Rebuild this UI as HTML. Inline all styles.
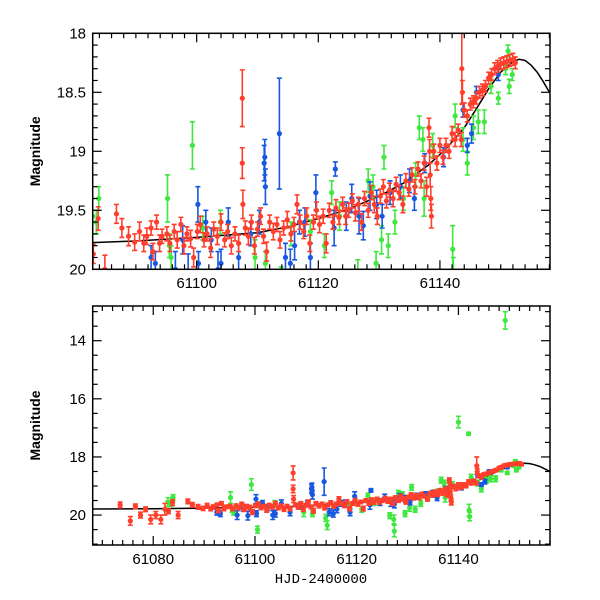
<!DOCTYPE html>
<html><head><meta charset="utf-8"><style>
body{margin:0;background:#fff;}
svg{display:block;font-family:"Liberation Sans",sans-serif;}
</style></head><body>
<svg id="chart" width="600" height="600" viewBox="0 0 600 600">
<defs>
<clipPath id="clipTop"><rect x="92.7" y="33.3" width="457.3" height="236"/></clipPath>
<clipPath id="clipBot"><rect x="92.7" y="306" width="457.3" height="239"/></clipPath>
</defs>
</svg>
<script>
const xTicks=[61080,61100,61120,61140];
const topYTicks=[18,18.5,19,19.5,20];
const botYTicks=[14,16,18,20];
const curveT=[61068,61080,61090,61100,61110,61115,61120,61125,61130,61134,61138,61141,61144,61146,61148,61150,61152,61153,61154,61155,61156,61157,61158];
const curveM=[19.79,19.78,19.76,19.73,19.69,19.64,19.57,19.49,19.38,19.27,19.12,18.98,18.8,18.64,18.47,18.33,18.24,18.22,18.23,18.27,18.33,18.41,18.5];
const redT=[61073.5,61075.5,61076.5,61077.5,61078.5,61079.5,61080.5,61081.5,61082.3,61083.0,61083.8,61084.9,61086.8,61087.7,61088.8,61089.8,61090.6,61091.3,61091.8,61092.5,61092.8,61093.4,61093.9,61094.3,61095.1,61095.6,61096.3,61096.8,61097.4,61097.9,61098.4,61099.0,61099.5,61100.1,61100.6,61101.2,61101.7,61102.3,61102.8,61103.4,61104.0,61104.6,61105.1,61105.7,61106.3,61106.9,61107.5,61107.5,61107.6,61108.0,61108.5,61109.0,61109.5,61110.0,61110.5,61111.0,61111.5,61112.0,61112.6,61113.2,61113.7,61114.3,61114.9,61115.5,61116.0,61116.5,61117.0,61117.6,61118.1,61118.6,61119.2,61119.7,61120.2,61120.8,61121.3,61121.8,61122.4,61122.9,61123.4,61124.0,61124.5,61125.0,61125.6,61126.1,61126.6,61127.1,61127.6,61128.2,61128.7,61129.2,61129.7,61130.2,61130.7,61131.2,61131.7,61132.3,61132.8,61133.3,61133.9,61134.4,61134.9,61135.4,61135.9,61136.4,61136.9,61137.4,61137.8,61138.2,61138.3,61138.4,61138.5,61138.6,61139.0,61139.5,61140.0,61140.5,61141.0,61141.5,61142.0,61142.5,61143.0,61143.5,61143.6,61143.7,61144.0,61144.5,61145.0,61145.5,61146.0,61146.5,61147.0,61147.5,61148.0,61148.5,61149.0,61149.5,61150.0,61150.5,61151.0,61151.5,61152.0,61152.4];
const redM=[19.65,20.2,19.7,20.0,19.8,20.15,20.0,20.15,19.8,19.87,19.57,20.0,19.53,19.65,19.72,19.77,19.68,19.78,19.72,19.65,19.85,19.6,19.78,19.72,19.7,19.78,19.68,19.75,19.62,19.8,19.7,19.74,19.9,19.68,19.62,19.75,19.7,19.82,19.66,19.72,19.6,19.75,19.68,19.8,19.7,19.78,18.55,19.1,19.45,19.65,19.72,19.6,19.8,19.66,19.55,19.72,19.85,19.6,19.68,19.62,19.75,19.65,19.58,19.7,19.62,19.45,19.6,19.68,19.55,19.78,19.6,19.5,19.62,19.55,19.78,19.5,19.6,19.48,19.56,19.45,19.55,19.5,19.42,19.52,19.45,19.6,19.4,19.5,19.35,19.45,19.55,19.38,19.3,19.42,19.33,19.4,19.28,19.35,19.45,19.25,19.32,19.2,19.3,19.15,19.25,19.1,19.3,18.8,19.0,19.2,19.4,19.55,19.0,19.1,18.95,19.05,18.95,19.0,18.85,18.9,18.82,18.9,18.3,18.5,18.65,18.7,18.6,18.58,18.55,18.5,18.48,18.45,18.38,18.35,18.3,18.28,18.26,18.25,18.24,18.23,18.22,18.25];
const redE=[0.1,0.15,0.08,0.1,0.08,0.15,0.12,0.15,0.2,0.08,0.1,0.12,0.08,0.08,0.08,0.07,0.08,0.07,0.07,0.06,0.07,0.06,0.07,0.06,0.06,0.07,0.06,0.07,0.06,0.07,0.06,0.07,0.08,0.06,0.07,0.06,0.06,0.08,0.06,0.07,0.07,0.06,0.06,0.07,0.06,0.07,0.24,0.13,0.12,0.06,0.07,0.06,0.07,0.06,0.07,0.06,0.08,0.06,0.07,0.06,0.07,0.06,0.07,0.06,0.06,0.08,0.06,0.06,0.07,0.07,0.06,0.07,0.07,0.06,0.08,0.06,0.06,0.07,0.06,0.06,0.07,0.06,0.06,0.07,0.06,0.07,0.06,0.06,0.06,0.07,0.07,0.06,0.06,0.06,0.06,0.07,0.06,0.06,0.07,0.06,0.06,0.06,0.06,0.06,0.06,0.06,0.08,0.08,0.1,0.1,0.1,0.1,0.06,0.06,0.06,0.06,0.06,0.06,0.06,0.06,0.05,0.06,0.3,0.1,0.06,0.05,0.05,0.05,0.05,0.05,0.05,0.05,0.05,0.05,0.05,0.05,0.05,0.05,0.05,0.05,0.05,0.05];
const blueT=[61092.5,61093.2,61096.5,61097.7,61098.6,61100.2,61100.3,61101.5,61102.4,61103.5,61104.0,61105.2,61106.9,61108.9,61110.3,61111.1,61111.2,61111.3,61113.6,61114.6,61115.4,61116.1,61116.9,61117.8,61118.7,61119.6,61122.6,61122.8,61124.6,61125.5,61126.7,61127.4,61128.5,61129.6,61130.5,61131.8,61133.5,61135.0,61135.8,61137.5,61140.6,61143.8,61144.5,61145.2,61146.0,61149.6];
const blueM=[19.9,19.95,20.0,19.75,20.02,19.45,19.95,19.6,19.75,20.0,19.95,19.6,19.9,19.7,19.6,19.1,19.05,19.3,18.85,19.9,19.95,19.8,19.6,19.6,19.9,19.35,19.65,19.15,19.55,19.4,19.55,19.63,19.38,19.45,19.55,19.35,19.3,19.25,19.4,19.1,19.05,18.65,18.95,18.85,18.5,18.35];
const blueE=[0.1,0.1,0.15,0.12,0.15,0.15,0.1,0.1,0.1,0.15,0.12,0.12,0.12,0.1,0.1,0.15,0.15,0.15,0.47,0.12,0.12,0.12,0.1,0.12,0.12,0.15,0.15,0.06,0.12,0.12,0.15,0.12,0.12,0.12,0.1,0.1,0.1,0.1,0.1,0.08,0.08,0.06,0.06,0.08,0.05,0.05];
const greenT=[61082.9,61083.5,61083.9,61095.2,61095.5,61095.8,61099.3,61100.5,61101.0,61103.9,61109.6,61111.3,61113.9,61114.2,61115.5,61118.7,61121.0,61122.2,61123.5,61126.5,61127.3,61127.4,61128.2,61129.0,61129.5,61130.4,61130.8,61131.5,61132.6,61134.0,61136.0,61136.6,61137.2,61137.4,61138.8,61140.0,61142.0,61142.1,61142.2,61142.5,61143.8,61144.5,61145.5,61146.3,61147.3,61148.4,61149.2,61149.6,61150.8,61151.2,61151.9,61151.4];
const greenM=[19.55,19.6,19.4,19.4,19.8,19.9,18.95,20.5,19.65,19.6,19.9,19.95,20.1,20.35,19.7,19.68,19.8,19.35,19.55,20.02,20.15,20.55,19.25,19.3,19.95,19.75,19.05,19.8,19.6,19.4,19.2,18.8,18.9,19.4,18.95,16.8,17.2,19.83,20.05,18.7,18.9,19.1,18.8,18.75,18.75,18.45,13.3,18.55,18.3,18.15,18.35,18.45];
const greenE=[0.15,0.1,0.1,0.2,0.1,0.1,0.2,0.12,0.1,0.1,0.15,0.1,0.12,0.15,0.1,0.1,0.1,0.1,0.12,0.1,0.15,0.2,0.1,0.1,0.1,0.12,0.1,0.1,0.1,0.1,0.1,0.1,0.1,0.15,0.1,0.2,0.05,0.2,0.15,0.1,0.1,0.1,0.1,0.1,0.1,0.06,0.3,0.05,0.05,0.05,0.05,0.06];

const NS="http://www.w3.org/2000/svg";
const svg=document.getElementById('chart');
function mk(tag,attrs,parent){const e=document.createElementNS(NS,tag);for(const k in attrs)e.setAttribute(k,attrs[k]);(parent||svg).appendChild(e);return e;}

const panels=[
 {name:'top',x0:92.7,x1:550,y0:33.3,y1:269.3,t0:61082.9,t1:61158.1,m0:18,m1:20,yt:topYTicks,ymin:0.1,xlabY:288,clip:'clipTop',xTicks:[61100,61120,61140]},
 {name:'bottom',x0:92.7,x1:550,y0:306,y1:545,t0:61068.1,t1:61158.0,m0:12.806,m1:21.03,yt:botYTicks,ymin:0.5,xlabY:564,clip:'clipBot',xTicks:xTicks}
];
const series=[
 {n:'green',c:'#3ee83e',T:greenT,M:greenM,E:greenE},
 {n:'blue',c:'#1858e0',T:blueT,M:blueM,E:blueE},
 {n:'red',c:'#ff3f2c',T:redT,M:redM,E:redE}
];
panels.forEach(p=>{
 const X=t=>p.x0+(t-p.t0)/(p.t1-p.t0)*(p.x1-p.x0);
 const Y=m=>p.y0+(m-p.m0)/(p.m1-p.m0)*(p.y1-p.y0);
 const g=mk('g',{});
 
 
 const dg=mk('g',{'clip-path':'url(#'+p.clip+')'},g);
 let d='';curveT.forEach((t,i)=>{d+=(i?'L':'M')+X(t).toFixed(1)+' '+Y(curveM[i]).toFixed(1);});
 const cv=mk('path',{d:d,fill:'none',stroke:'#000','stroke-width':1.5},dg);
 
 
 series.forEach(s=>{
  const sg=mk('g',{stroke:s.c,fill:s.c,'stroke-width':1.6},dg);
  
  
  s.T.forEach((t,i)=>{
   const x=X(t),y=Y(s.M[i]),ya=Y(s.M[i]-s.E[i]),yb=Y(s.M[i]+s.E[i]);
   mk('path',{d:`M${x} ${ya}V${yb}M${x-2.5} ${ya}h5M${x-2.5} ${yb}h5`,fill:'none'},sg);
   const c=mk('circle',{cx:x,cy:y,r:2.6,stroke:'none'},sg);
   
   
  });
 });
 const fr=mk('rect',{x:p.x0,y:p.y0,width:p.x1-p.x0,height:p.y1-p.y0,fill:'none',stroke:'#000','stroke-width':1.5},g);
 
 
 for(let t=Math.ceil(p.t0/2)*2;t<=p.t1;t+=2){
  const maj=t%20===0, L=maj?9:5, x=X(t);
  mk('line',{x1:x,x2:x,y1:p.y1,y2:p.y1-L,stroke:'#000','stroke-width':1.2},g);
  mk('line',{x1:x,x2:x,y1:p.y0,y2:p.y0+L,stroke:'#000','stroke-width':1.2},g);
 }
 p.xTicks.forEach(t=>{
  const tx=mk('text',{x:X(t),y:p.xlabY,'text-anchor':'middle','font-size':15},g);
  tx.textContent=t;
  
  
 });
 for(let k=0;k<200;k++){
  const m=Math.ceil(p.m0/p.ymin-1e-6)*p.ymin+k*p.ymin; if(m>p.m1+1e-6)break;
  const maj=p.yt.some(v=>Math.abs(v-m)<1e-6), L=maj?9:5, y=Y(m);
  mk('line',{x1:p.x0,x2:p.x0+L,y1:y,y2:y,stroke:'#000','stroke-width':1.2},g);
  mk('line',{x1:p.x1,x2:p.x1-L,y1:y,y2:y,stroke:'#000','stroke-width':1.2},g);
 }
 p.yt.forEach(v=>{
  const tx=mk('text',{x:86,y:Y(v)+5,'text-anchor':'end','font-size':15},g);
  tx.textContent=String(v);
  
  
 });
 const yl=mk('text',{x:0,y:0,'text-anchor':'middle','font-size':14,'font-weight':'bold',transform:`translate(40,${(p.y0+p.y1)/2}) rotate(-90)`},g);
 yl.textContent='Magnitude';
 
 
});
const xl=mk('text',{x:321,y:583,'text-anchor':'middle','font-size':14,'font-family':'"Liberation Mono",monospace'});
xl.textContent='HJD-2400000';


</script>
</body></html>
